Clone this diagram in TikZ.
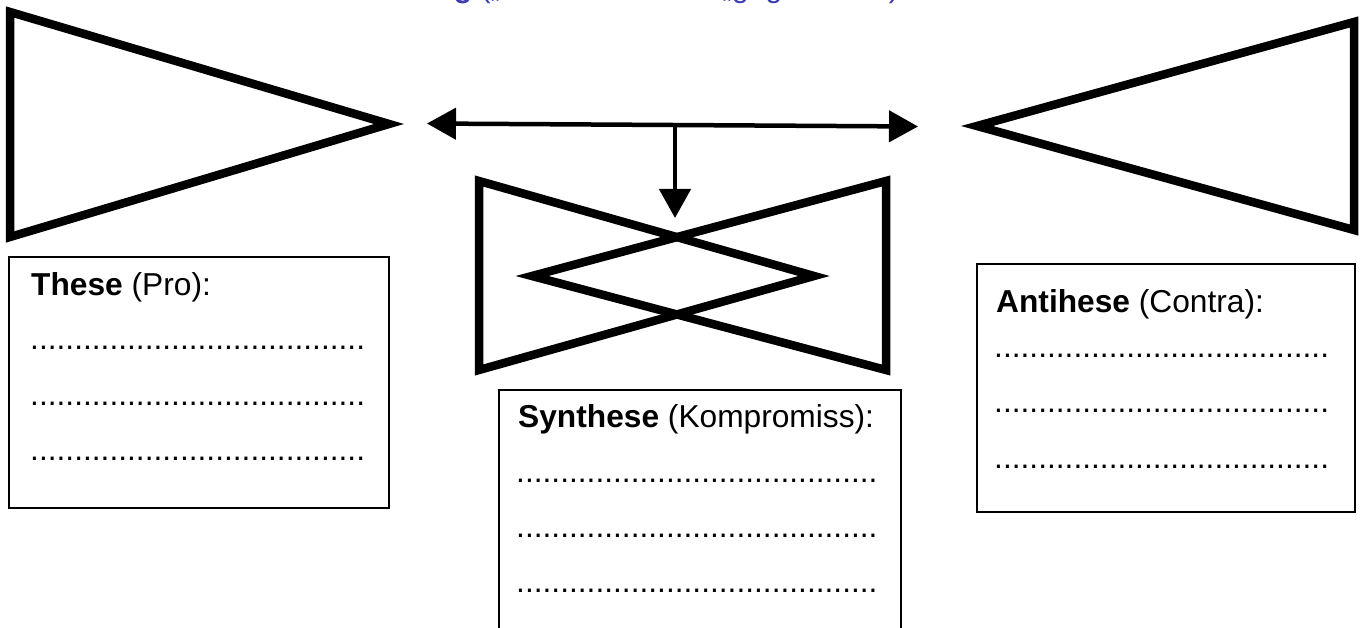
\documentclass[tikz,border=0pt]{standalone}
\usepackage{fontspec}
\setmainfont{Liberation Sans}
\usetikzlibrary{arrows.meta}
\definecolor{titleblue}{RGB}{60,60,175}
\newcount\mydotcnt
\def\mydots#1{\mydotcnt=0 \loop\ifnum\mydotcnt<#1 .\advance\mydotcnt by 1 \repeat}
\tikzset{
  bigshape/.style={line width=8.5pt, line join=miter, miter limit=20},
  framebox/.style={draw, line width=1.6pt},
  lbl/.style={anchor=base west, inner sep=0pt, font=\fontsize{31.7}{38}\selectfont},
  headtip/.tip={Triangle[length=29pt,width=31pt]},
  conn/.style={line width=4.5pt},
}
\begin{document}
\begin{tikzpicture}[x=1pt,y=-1pt]
\useasboundingbox (0,0) rectangle (1366,628);
\clip (0,0) rectangle (1366,628);
\fill[white] (0,0) rectangle (1366,628);
% cut-off title
\node[anchor=base west, inner sep=0pt, text=titleblue, font=\fontsize{30}{36}\selectfont] (title) at (317,-2.5)
  {\textbf{Erörterung} („Pro und Contra“ „gegen“ sein)};
% left triangle
\coordinate (lt1) at (10,12);
\coordinate (lt2) at (10,237);
\coordinate (lt3) at (389,124);
\draw[bigshape] (lt1) -- (lt3) -- (lt2) -- cycle;
% right triangle
\coordinate (rt1) at (1354,22);
\coordinate (rt2) at (1354,230);
\coordinate (rt3) at (977,126);
\draw[bigshape] (rt1) -- (rt3) -- (rt2) -- cycle;
% middle bow tie
\coordinate (ma1) at (479,181);
\coordinate (ma2) at (479,370);
\coordinate (ma3) at (814,276);
\coordinate (mb1) at (886,181);
\coordinate (mb2) at (886,370);
\coordinate (mb3) at (532,276);
\draw[bigshape] (ma1) -- (ma3) -- (ma2) -- cycle;
\draw[bigshape] (mb1) -- (mb3) -- (mb2) -- cycle;
% arrows
\coordinate (aL) at (427,123.5);
\coordinate (aR) at (918,126.5);
\coordinate (aJ) at (675,125);
\coordinate (aD) at (675,218);
\draw[conn, headtip-headtip] (aL) -- (aR);
\draw[conn, -headtip] (aJ) -- (aD);
% These box
\draw[framebox] (9,257) rectangle (389,508);
\node[lbl] (these) at (31,296) {\textbf{These} (Pro):};
\node[lbl] (td1) at (30,350) {\mydots{38}};
\node[lbl] (td2) at (30,405) {\mydots{38}};
\node[lbl] (td3) at (30,460) {\mydots{38}};
% Synthese box
\draw[framebox] (499,390) rectangle (901,660);
\node[lbl] (synth) at (518,428) {\textbf{Synthese} (Kompromiss):};
\node[lbl] (sd1) at (516,482) {\mydots{41}};
\node[lbl] (sd2) at (516,537) {\mydots{41}};
\node[lbl] (sd3) at (516,592) {\mydots{41}};
% Antithese box
\draw[framebox] (977,264) rectangle (1355,512);
\node[lbl] (anti) at (996,313) {\textbf{Antihese} (Contra):};
\node[lbl] (ad1) at (994,358) {\mydots{38}};
\node[lbl] (ad2) at (994,413) {\mydots{38}};
\node[lbl] (ad3) at (994,468) {\mydots{38}};
\end{tikzpicture}
\end{document}
